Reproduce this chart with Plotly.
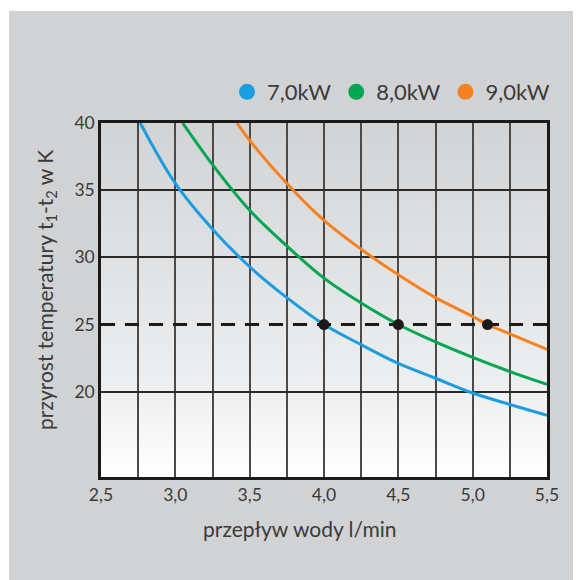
import base64
import plotly.graph_objects as go

flow_7kw = [2.764, 3.0, 3.25, 3.5, 3.75, 4.0, 4.25, 4.5, 4.75, 5.0, 5.25, 5.5]
temp_7kw = [40.0, 35.5, 32.1, 29.3, 27.0, 25.0, 23.5, 22.1, 21.0, 19.9, 19.05, 18.25]

flow_8kw = [3.049, 3.25, 3.5, 3.75, 4.0, 4.25, 4.5, 4.75, 5.0, 5.25, 5.5]
temp_8kw = [40.0, 36.9, 33.5, 30.85, 28.45, 26.6, 25.0, 23.7, 22.55, 21.5, 20.55]

flow_9kw = [3.415, 3.5, 3.75, 4.0, 4.25, 4.5, 4.75, 5.0, 5.1, 5.25, 5.5]
temp_9kw = [40.0, 38.7, 35.5, 32.75, 30.6, 28.7, 27.0, 25.6, 25.0, 24.3, 23.15]

point_flow = [4.0, 4.5, 5.1]
point_temp = [25, 25, 25]
target_temp = 25

x_ticks = [2.5, 3.0, 3.5, 4.0, 4.5, 5.0, 5.5]
x_labels = ['2,5', '3,0', '3,5', '4,0', '4,5', '5,0', '5,5']
y_ticks = [20, 25, 30, 35, 40]
y_grid = [20, 30, 35]

x_range = [2.5, 5.5]
y_range = [13.65, 40]

x_title = 'przepływ wody l/min'
y_title = 'przyrost temperatury t<sub>1</sub>-t<sub>2</sub> w K'

series = [('7,0kW', flow_7kw, temp_7kw, '#1b9ddf'),
          ('8,0kW', flow_8kw, temp_8kw, '#00a651'),
          ('9,0kW', flow_9kw, temp_9kw, '#f58220')]

W, H = 581, 580
OFF = 8  # page body margin
L, T = 101 - OFF, 123 - OFF
pw, ph = 446, 354
R, B = W - L - pw, H - T - ph
FONT = 'Lato'
TXT = '#3a3a3a'


def px_x(px):
    return (px - OFF - L) / pw


def px_y(px):
    return 1 - (px - OFF - T) / ph


# vertical grey-to-white gradient for the plot area
svg = ('<svg xmlns="http://www.w3.org/2000/svg" width="100" height="100" '
       'viewBox="0 0 100 100" preserveAspectRatio="none">'
       '<defs><linearGradient id="g" x1="0" y1="0" x2="0" y2="1">'
       '<stop offset="0" stop-color="#d2d3d5"/>'
       '<stop offset="0.76" stop-color="#eeeff0"/>'
       '<stop offset="1" stop-color="#ffffff"/>'
       '</linearGradient></defs>'
       '<rect width="100" height="100" fill="url(#g)"/></svg>')
bg_src = 'data:image/svg+xml;base64,' + base64.b64encode(svg.encode()).decode()

fig = go.Figure()

for name, xs, ys, color in series:
    fig.add_trace(go.Scatter(x=xs, y=ys, mode='lines', line_shape='spline',
                             line={'color': color, 'width': 3},
                             showlegend=False, name=name, hoverinfo='skip'))

fig.add_trace(go.Scatter(x=x_range, y=[target_temp, target_temp], mode='lines',
                         line={'color': '#1a1a1a', 'width': 3,
                               'dash': '14px,10px'},
                         showlegend=False, hoverinfo='skip'))
fig.add_trace(go.Scatter(x=point_flow, y=point_temp, mode='markers',
                         marker={'color': '#1a1a1a', 'size': 11},
                         showlegend=False))

# legend entries as circles
for name, xs, ys, color in series:
    fig.add_trace(go.Scatter(x=[None], y=[None], mode='markers', name=name,
                             marker={'color': color, 'size': 16}))

# gridline-only axis needs a trace to show up
fig.add_trace(go.Scatter(x=[None], y=[None], yaxis='y2', showlegend=False,
                         hoverinfo='skip'))

fig.add_layout_image(dict(source=bg_src, xref='x', yref='y',
                          x=x_range[0], y=y_range[1],
                          sizex=x_range[1] - x_range[0],
                          sizey=y_range[1] - y_range[0],
                          sizing='stretch', layer='below'))

fig.add_shape(type='rect', xref='paper', yref='paper', layer='below',
              x0=px_x(9), x1=px_x(W + 20), y0=px_y(H + 20), y1=px_y(11),
              fillcolor='#d1d2d4', line_width=0)

fig.add_annotation(text=x_title, xref='paper', yref='paper',
                   x=px_x(299), y=px_y(528), xanchor='center',
                   yanchor='middle', showarrow=False,
                   font=dict(size=21, color=TXT))
fig.add_annotation(text=y_title, xref='paper', yref='paper',
                   x=px_x(46), y=px_y(290), xanchor='center',
                   yanchor='middle', showarrow=False, textangle=-90,
                   font=dict(size=21, color=TXT))

fig.update_layout(
    width=W, height=H,
    margin=dict(l=L, r=R, t=T, b=B, pad=0),
    paper_bgcolor='white', plot_bgcolor='rgba(0,0,0,0)',
    font=dict(family=FONT, color=TXT, size=17),
    showlegend=True,
    legend=dict(orientation='h', x=1 + 8 / pw, xanchor='right',
                y=1 + 31 / ph, yanchor='middle',
                font=dict(size=22, color=TXT),
                bgcolor='rgba(0,0,0,0)', itemwidth=30),
    xaxis=dict(range=x_range, tickvals=x_ticks, ticktext=x_labels,
               showgrid=True, gridcolor='#4a4a4a', gridwidth=1.5,
               minor=dict(dtick=0.25, showgrid=True, gridcolor='#4a4a4a',
                          gridwidth=1.5),
               showline=True, linecolor='#1a1a1a', linewidth=2.5, mirror=True,
               ticks='', zeroline=False, automargin=False,
               tickfont=dict(size=17.5)),
    yaxis=dict(range=y_range, tickvals=y_ticks, showgrid=False,
               showline=True, linecolor='#1a1a1a', linewidth=2.5, mirror=True,
               ticks='', zeroline=False, automargin=False,
               tickfont=dict(size=17.5)),
    yaxis2=dict(range=y_range, overlaying='y', tickvals=y_grid, showgrid=True,
                gridcolor='#2a2a2a', gridwidth=1.5, showticklabels=False,
                zeroline=False, automargin=False),
)

fig.write_html("out.html")
